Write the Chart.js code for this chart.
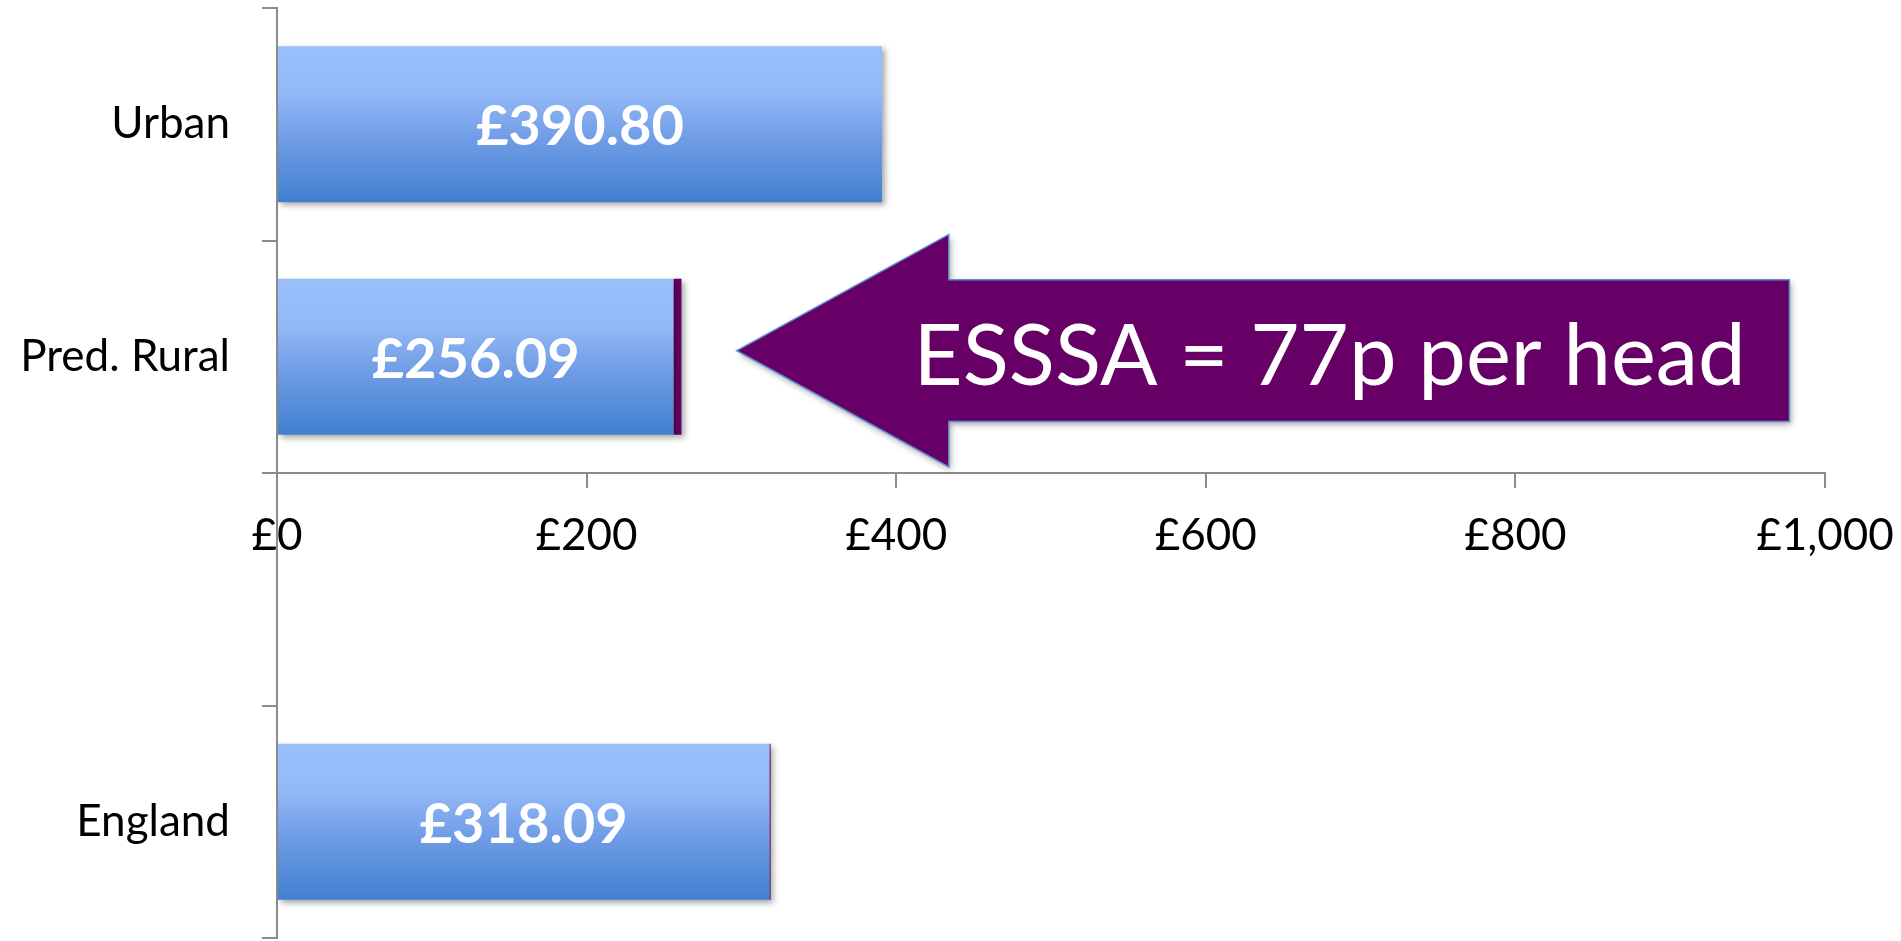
<!DOCTYPE html>
<html>
<head>
<meta charset="utf-8">
<script src="https://cdn.jsdelivr.net/npm/chart.js@4.4.0/dist/chart.umd.min.js"></script>
<style>
  html, body { margin: 0; padding: 0; background: #fff; }
  #wrap { width: 1901px; height: 941px; }
</style>
</head>
<body>
<div id="wrap"><canvas id="spendChart"></canvas></div>
<script>
const categories = ['Urban', 'Pred. Rural', '', 'England'];
const spendPerHead = [390.80, 256.09, null, 318.09];
const esssaExtra = [0, 5.2, null, 0.77];
const xTicks = [0, 200, 400, 600, 800, 1000];

// the callout arrow, placed in £ along the x axis next to the Pred. Rural row
const callout = {
  text: 'ESSSA = 77p per head',
  row: 1,
  tip: 297,
  neck: 434,
  end: 977,
  textAt: 680
};

const axisGrey = '#8c8c8c';

function barGradient(context) {
  const chart = context.chart;
  const y = chart.scales.y;
  if (!y || context.dataIndex === undefined) return '#7ca7ec';
  const band = Math.abs(y.getPixelForValue(1) - y.getPixelForValue(0));
  const mid = y.getPixelForValue(context.dataIndex);
  const half = band * 0.67 / 2;
  if (!isFinite(mid) || !isFinite(half) || half <= 0) return '#7ca7ec';
  const g = chart.ctx.createLinearGradient(0, mid - half, 0, mid + half);
  g.addColorStop(0, '#9ac0fc');
  g.addColorStop(0.3, '#93b9f7');
  g.addColorStop(0.6, '#6f9ce5');
  g.addColorStop(1, '#4180cf');
  return g;
}

// soft drop shadow under the bars
const barShadow = {
  id: 'barShadow',
  beforeDatasetsDraw(chart) {
    const ctx = chart.ctx;
    ctx.save();
    ctx.shadowColor = 'rgba(0,0,0,0.35)';
    ctx.shadowBlur = 6;
    ctx.shadowOffsetX = 3;
    ctx.shadowOffsetY = 3;
  },
  afterDatasetsDraw(chart) {
    chart.ctx.restore();
  }
};

const valueLabels = {
  id: 'valueLabels',
  afterDatasetsDraw(chart) {
    const meta = chart.getDatasetMeta(0);
    const ctx = chart.ctx;
    ctx.save();
    ctx.fillStyle = '#fff';
    ctx.font = 'bold 56px Lato';
    ctx.textAlign = 'center';
    ctx.textBaseline = 'middle';
    meta.data.forEach((bar, i) => {
      const v = spendPerHead[i];
      if (v == null) return;
      ctx.fillText('£' + v.toFixed(2), (bar.x + bar.base) / 2, bar.y + 3);
    });
    ctx.restore();
  }
};

const calloutArrow = {
  id: 'calloutArrow',
  afterDraw(chart) {
    const x = chart.scales.x;
    const y = chart.scales.y;
    const ctx = chart.ctx;
    const band = Math.abs(y.getPixelForValue(1) - y.getPixelForValue(0));
    const cy = y.getPixelForValue(callout.row) - band * 0.026;
    const headHalf = band * 0.5;
    const shaftHalf = band * 0.305;
    const tipX = x.getPixelForValue(callout.tip);
    const neckX = x.getPixelForValue(callout.neck);
    const endX = x.getPixelForValue(callout.end);

    ctx.save();
    ctx.beginPath();
    ctx.moveTo(tipX, cy);
    ctx.lineTo(neckX, cy - headHalf);
    ctx.lineTo(neckX, cy - shaftHalf);
    ctx.lineTo(endX, cy - shaftHalf);
    ctx.lineTo(endX, cy + shaftHalf);
    ctx.lineTo(neckX, cy + shaftHalf);
    ctx.lineTo(neckX, cy + headHalf);
    ctx.closePath();
    ctx.shadowColor = 'rgba(0,0,0,0.35)';
    ctx.shadowBlur = 6;
    ctx.shadowOffsetX = 2;
    ctx.shadowOffsetY = 3;
    ctx.fillStyle = '#660066';
    ctx.fill();
    ctx.shadowColor = 'transparent';
    ctx.lineWidth = 1.5;
    ctx.strokeStyle = '#5b8fd0';
    ctx.stroke();

    const size = 85;
    ctx.font = size + 'px Lato';
    ctx.fillStyle = '#fff';
    ctx.textAlign = 'center';
    ctx.textBaseline = 'alphabetic';
    ctx.fillText(callout.text, x.getPixelForValue(callout.textAt), cy + size * 0.4);
    ctx.restore();
  }
};

Chart.defaults.font.family = 'Lato';
Chart.defaults.color = '#000';

new Chart(document.getElementById('spendChart'), {
  type: 'bar',
  data: {
    labels: categories,
    datasets: [
      {
        label: 'Spend per head',
        data: spendPerHead,
        backgroundColor: barGradient,
        borderWidth: 0
      },
      {
        label: 'ESSSA',
        data: esssaExtra,
        backgroundColor: '#660066',
        borderWidth: 0
      }
    ]
  },
  options: {
    indexAxis: 'y',
    responsive: true,
    maintainAspectRatio: false,
    animation: false,
    categoryPercentage: 0.67,
    barPercentage: 1,
    layout: { padding: { top: 8, right: 76, bottom: 3, left: 0 } },
    plugins: {
      legend: { display: false },
      tooltip: { enabled: false }
    },
    scales: {
      x: {
        stacked: true,
        min: 0,
        max: 1000,
        position: { y: 1.5 },
        afterBuildTicks: scale => {
          scale.ticks = xTicks.map(v => ({ value: v }));
        },
        afterFit: scale => {
          scale.paddingLeft = scale.paddingRight = 0;
          scale.paddingTop = scale.paddingBottom = 0;
        },
        ticks: {
          font: { size: 44 },
          padding: 22,
          callback: v => '£' + Number(v).toLocaleString('en-GB')
        },
        grid: {
          drawOnChartArea: false,
          color: axisGrey,
          lineWidth: 2,
          tickLength: 14
        },
        border: { color: axisGrey, width: 2 }
      },
      y: {
        stacked: true,
        afterFit: scale => {
          scale.width = 277;
          scale.paddingTop = scale.paddingBottom = 0;
        },
        ticks: {
          font: { size: 44 },
          padding: 32
        },
        grid: {
          offset: true,
          drawOnChartArea: false,
          color: axisGrey,
          lineWidth: 2,
          tickLength: 15
        },
        border: { color: axisGrey, width: 2 }
      }
    }
  },
  plugins: [barShadow, valueLabels, calloutArrow]
});
</script>
</body>
</html>
